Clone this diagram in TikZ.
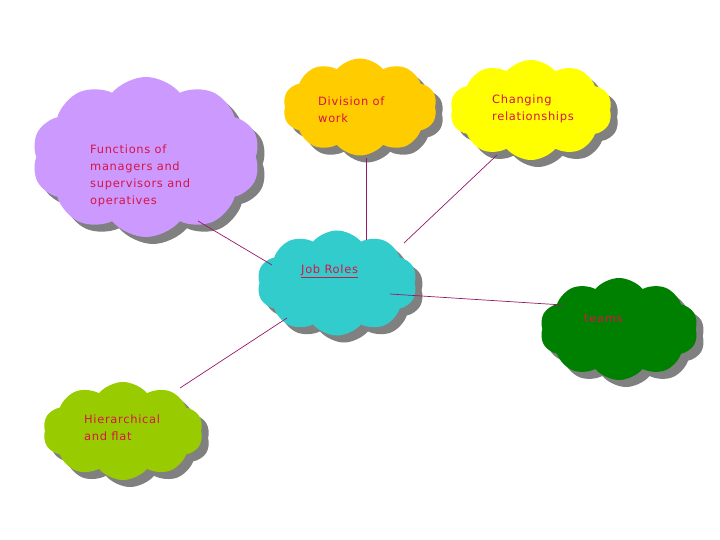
\documentclass[tikz,border=0pt]{standalone}
\usepackage{fontspec}
\setmainfont[LetterSpace=6]{DejaVu Sans}
\usetikzlibrary{shapes.symbols,shadows}

\definecolor{lilac}{RGB}{204,153,255}
\definecolor{amber}{RGB}{255,204,0}
\definecolor{lemon}{RGB}{255,255,0}
\definecolor{teal}{RGB}{51,204,204}
\definecolor{leaf}{RGB}{0,128,0}
\definecolor{lime}{RGB}{153,204,0}
\definecolor{rosetext}{RGB}{215,20,70}
\definecolor{linkred}{RGB}{150,25,105}
\definecolor{shadowgray}{RGB}{128,128,128}

\begin{document}
\begin{tikzpicture}[x=1bp,y=-1bp]
\tikzset{
  puff/.style={cloud,cloud puffs=10,cloud puff arc=100,cloud ignores aspect,inner sep=0pt,
    drop shadow={shadow xshift=7bp,shadow yshift=-7bp,fill=shadowgray,opacity=1}},
  cloudtext/.style={anchor=north west,align=left,text=rosetext,inner sep=0pt,
    font=\fontsize{11.5}{17}\selectfont},
  link/.style={draw=linkred,line width=0.7bp}
}
\fill[white] (0,0) rectangle (720,540);
\useasboundingbox (0,0) rectangle (720,540);

% clouds
\node[puff,fill=lilac,minimum width=228bp,minimum height=160bp] (c_func) at (146,157) {};
\node[puff,fill=amber,minimum width=154bp,minimum height=97bp] (c_div) at (360,107) {};
\node[puff,fill=lemon,minimum width=162bp,minimum height=100bp] (c_chg) at (531,110) {};
\node[puff,fill=teal,minimum width=160bp,minimum height=105bp] (c_job) at (337,283) {};
\node[puff,fill=leaf,minimum width=158bp,minimum height=102bp] (c_team) at (619,329) {};
\node[puff,fill=lime,minimum width=160bp,minimum height=98bp] (c_hier) at (123,431) {};

% link ends
\coordinate (p_func) at (198,221);
\coordinate (p_div) at (366,158);
\coordinate (p_chg) at (497,155);
\coordinate (p_team) at (563,305);
\coordinate (p_hier) at (180,388);
\coordinate (q_func) at (272,265);
\coordinate (q_div) at (366,240);
\coordinate (q_chg) at (404,243);
\coordinate (q_team) at (390,294);
\coordinate (q_hier) at (287,318);

\draw[link] (p_func) -- (q_func);
\draw[link] (p_div) -- (q_div);
\draw[link] (p_chg) -- (q_chg);
\draw[link] (q_team) -- (p_team);
\draw[link] (q_hier) -- (p_hier);

% texts
\node[cloudtext] (t_func) at (90,145) {Functions of\\managers and\\supervisors and\\operatives};
\node[cloudtext] (t_div) at (318,97) {Division of\\work};
\node[cloudtext] (t_chg) at (492,95) {Changing\\relationships};
\node[cloudtext] (t_job) at (301,265) {\underline{Job Roles}};
\node[cloudtext] (t_team) at (584,314) {teams};
\node[cloudtext] (t_hier) at (84,415) {Hierarchical\\and flat};
\end{tikzpicture}
\end{document}
